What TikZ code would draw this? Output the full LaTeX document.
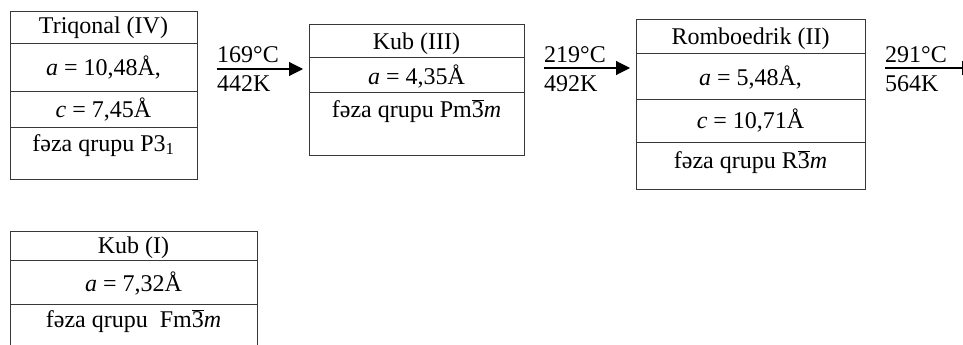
\documentclass[tikz,border=0pt]{standalone}
\usepackage{fontspec}
\setmainfont{Liberation Serif}
\usetikzlibrary{arrows.meta}
\begin{document}
\begin{tikzpicture}[x=1pt,y=-1pt,
  cell/.style={draw=black!78,line width=0.9pt},
  txt/.style={inner sep=0pt,anchor=base,font=\fontsize{24}{28}\selectfont},
  temp/.style={inner sep=0pt,anchor=base west,font=\fontsize{24}{28}\selectfont},
  trans/.style={line width=1.1pt,-{Triangle[length=14pt,width=14pt]}}]
\useasboundingbox (0,0) rectangle (963,345);
\clip (0,0) rectangle (963,345);

% Trigonal phase (IV)
\draw[cell] (10,11) rectangle (197,179);
\draw[cell] (10,43) -- (197,43);
\draw[cell] (10,91) -- (197,91);
\draw[cell] (10,127) -- (197,127);
\node[txt] (p4n) at (103.5,34) {Triqonal (IV)};
\node[txt] (p4a) at (103.5,75) {\textit{a} = 10,48Å,};
\node[txt] (p4c) at (103.5,117) {\textit{c} = 7,45Å};
\node[txt] (p4g) at (103.5,151) {fəza qrupu P3\textsubscript{1}};

% Cubic phase (III)
\draw[cell] (309,24) rectangle (524,155);
\draw[cell] (309,57) -- (524,57);
\draw[cell] (309,92) -- (524,92);
\node[txt] (p3n) at (416.5,50) {Kub (III)};
\node[txt] (p3a) at (416.5,84) {\textit{a} = 4,35Å};
\node[txt] (p3g) at (416.5,117) {fəza qrupu Pm$\overline{\hbox{3}}$\textit{m}};

% Rhombohedral phase (II)
\draw[cell] (636,19) rectangle (865,189);
\draw[cell] (636,53) -- (865,53);
\draw[cell] (636,99) -- (865,99);
\draw[cell] (636,142) -- (865,142);
\node[txt] (p2n) at (750.5,45) {Romboedrik (II)};
\node[txt] (p2a) at (750.5,85) {\textit{a} = 5,48Å,};
\node[txt] (p2c) at (750.5,128) {\textit{c} = 10,71Å};
\node[txt] (p2g) at (750.5,168) {fəza qrupu R$\overline{\hbox{3}}$\textit{m}};

% Cubic phase (I), open at the bottom
\draw[cell] (10,355) -- (10,231) -- (257,231) -- (257,355);
\draw[cell] (10,260) -- (257,260);
\draw[cell] (10,304) -- (257,304);
\node[txt] (p1n) at (133.5,253) {Kub (I)};
\node[txt] (p1a) at (133.5,291) {\textit{a} = 7,32Å};
\node[txt] (p1g) at (133.5,327) {fəza qrupu\ \ Fm$\overline{\hbox{3}}$\textit{m}};

% Transitions
\coordinate (t1s) at (217,69);
\coordinate (t1e) at (303,69);
\draw[trans] (t1s) -- (t1e);
\node[temp] (t1c) at (217,63) {169°C};
\node[temp] (t1k) at (217,92) {442K};

\coordinate (t2s) at (544,68);
\coordinate (t2e) at (630,68);
\draw[trans] (t2s) -- (t2e);
\node[temp] (t2c) at (544,63) {219°C};
\node[temp] (t2k) at (544,91) {492K};

\coordinate (t3s) at (885,68);
\coordinate (t3e) at (976,68);
\draw[trans] (t3s) -- (t3e);
\node[temp] (t3c) at (885,63) {291°C};
\node[temp] (t3k) at (885,91) {564K};
\end{tikzpicture}
\end{document}
